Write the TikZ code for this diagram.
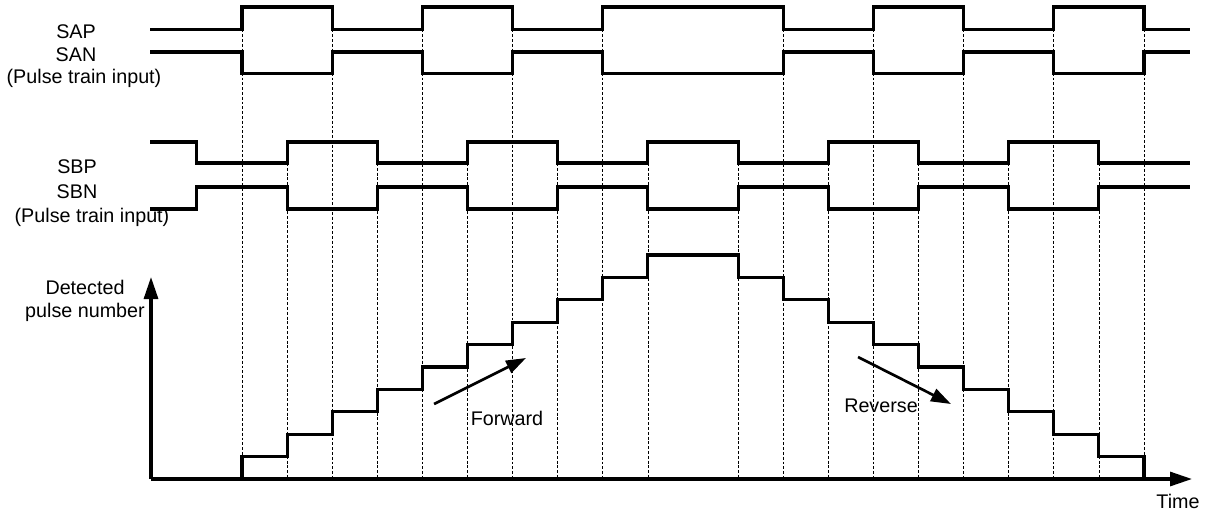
\documentclass[tikz,border=0pt]{standalone}
\usepackage{fontspec}
\setmainfont{Liberation Sans}
\usetikzlibrary{arrows.meta}
\begin{document}
\begin{tikzpicture}[x=0.75pt,y=-0.75pt,
  declare function={X(\k)=242+45.1*\k; L(\n)=479-22.4*\n;},
  wave/.style={line width=2.3pt, line join=miter},
  guide/.style={line width=0.55pt, dash pattern=on 2.2pt off 1.4pt},
  axisline/.style={line width=2.3pt, -{Triangle[length=16.5pt,width=10.5pt]}},
  dirarrow/.style={line width=2pt, -{Triangle[length=15pt,width=10pt]}},
  lbl/.style={font=\fontsize{14.8}{17}\selectfont, inner sep=0pt, anchor=base}]
\useasboundingbox (0,0) rectangle (1207,515);
% guide lines
\foreach \k in {0,2,4,6,8,12,14,16,18,20}
  \draw[guide] ({X(\k)},29.5) -- ({X(\k)},479);
\foreach \k in {1,3,...,19}
  \draw[guide] ({X(\k)},163) -- ({X(\k)},479);
% SAP / SAN
\draw[wave] (150,29.5) foreach \a/\b in {0/2,4/6,8/12,14/16,18/20}{
  -- ({X(\a)},29.5) -- ({X(\a)},7) -- ({X(\b)},7) -- ({X(\b)},29.5) } -- (1190,29.5);
\draw[wave] (150,52) foreach \a/\b in {0/2,4/6,8/12,14/16,18/20}{
  -- ({X(\a)},52) -- ({X(\a)},73.5) -- ({X(\b)},73.5) -- ({X(\b)},52) } -- (1190,52);
% SBP / SBN
\draw[wave] (150,142) -- ({X(-1)},142) -- ({X(-1)},163)
  foreach \a/\b in {1/3,5/7,9/11,13/15,17/19}{
  -- ({X(\a)},163) -- ({X(\a)},142) -- ({X(\b)},142) -- ({X(\b)},163) } -- (1190,163);
\draw[wave] (150,209) -- ({X(-1)},209) -- ({X(-1)},187)
  foreach \a/\b in {1/3,5/7,9/11,13/15,17/19}{
  -- ({X(\a)},187) -- ({X(\a)},209) -- ({X(\b)},209) -- ({X(\b)},187) } -- (1190,187);
% axes
\coordinate (O) at (151,479);
\coordinate (ytip) at (151,277);
\coordinate (xtip) at (1192,479);
\draw[axisline] (O) -- (ytip);
\draw[axisline] (O) -- (xtip);
% count
\draw[wave] (197,479) foreach \k in {0,...,9}{
  -- ({X(\k)},{L(\k)}) -- ({X(\k)},{L(\k+1)}) }
  foreach \k in {11,...,20}{
  -- ({X(\k)},{L(21-\k)}) -- ({X(\k)},{L(20-\k)}) };
% direction arrows
\coordinate (fa) at (434,404);
\coordinate (fb) at (526,358);
\coordinate (ra) at (858,357);
\coordinate (rb) at (951,404);
\draw[dirarrow] (fa) -- (fb);
\draw[dirarrow] (ra) -- (rb);
% labels
\node[lbl] (sap) at (76,38.5) {SAP};
\node[lbl] (san) at (76,61.5) {SAN};
\node[lbl] (pti1) at (84,83) {(Pulse train input)};
\node[lbl] (sbp) at (77,173) {SBP};
\node[lbl] (sbn) at (77,198.5) {SBN};
\node[lbl] (pti2) at (92,222) {(Pulse train input)};
\node[lbl] (det) at (85,294) {Detected};
\node[lbl] (pn) at (85,317) {pulse number};
\node[lbl] (fw) at (507,425) {Forward};
\node[lbl] (rv) at (881,412) {Reverse};
\node[lbl] (tm) at (1178,508) {Time};
\end{tikzpicture}
\end{document}
